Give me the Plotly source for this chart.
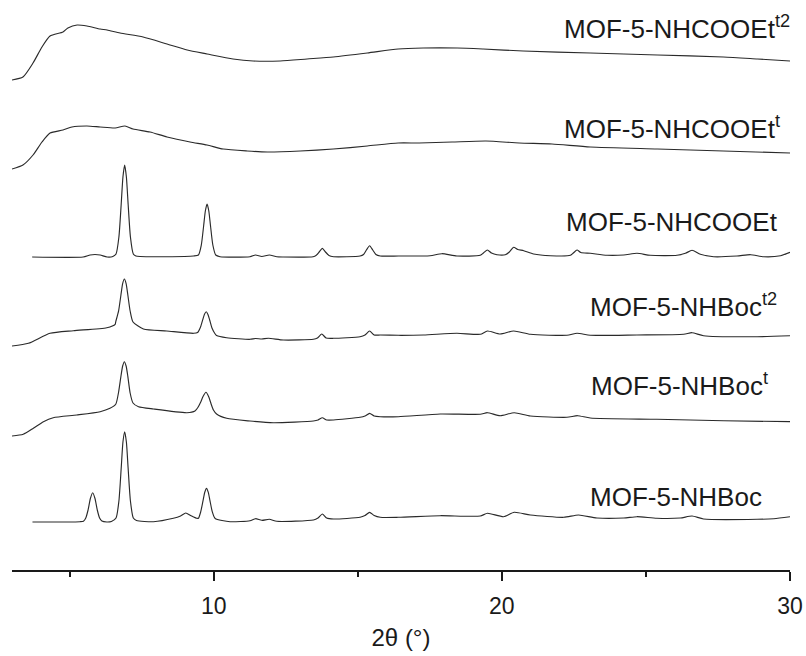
import plotly.graph_objects as go

# ---- Powder XRD patterns (2-theta in degrees, intensity in a.u. above each trace's offset) ----

tt_nhcooet_t2 = [3.0, 3.38, 3.73, 4.04, 4.32, 4.77, 4.94, 5.26, 5.60, 6.06, 6.30, 6.75, 7.55, 8.38, 9.08,
                 9.77, 10.67, 11.37, 12.31, 13.24, 14.15, 15.33, 16.40, 17.27, 18.45, 19.35, 20.74, 23.07,
                 25.40, 27.69, 28.87, 30.0]
int_nhcooet_t2 = [0, 3, 17, 33, 44, 48, 52, 55, 54, 51, 50, 47, 43, 36, 30,
                  26, 21, 19, 19, 21, 23, 27, 31, 32, 32, 31, 29, 27,
                  25, 23, 21, 19]

tt_nhcooet_t = [3.0, 3.38, 3.73, 4.04, 4.32, 4.77, 5.08, 5.60, 6.06, 6.58, 6.92, 7.20, 7.79, 8.38, 9.18,
                9.77, 10.33, 11.16, 11.86, 13.0, 14.15, 15.33, 16.40, 17.13, 18.27, 19.45, 20.6, 21.74,
                23.07, 25.40, 27.69, 30.0]
int_nhcooet_t = [0, 4, 14, 27, 36, 39, 42, 43, 42, 41, 43, 40, 37, 32, 27,
                 24, 20, 18, 17, 18, 20, 23, 26, 26, 27, 28, 26, 25,
                 22, 20, 18, 16]

tt_nhcooet = [3.70, 5.47, 5.71, 5.88, 6.06, 6.30, 6.50,
              6.61, 6.71, 6.79, 6.85, 6.91, 6.97, 7.03, 7.11, 7.21, 7.30, 7.45, 8.37, 9.30,
              9.47, 9.57, 9.65, 9.71, 9.77, 9.83, 9.89, 9.97, 10.07, 10.22,
              11.26, 11.45, 11.67, 11.93, 12.19, 12.42, 13.45,
              13.55, 13.66, 13.77, 13.88, 14.0, 14.16, 15.08,
              15.2, 15.3, 15.41, 15.52, 15.63, 15.78, 16.41, 17.51, 17.92, 18.44,
              19.25, 19.36, 19.50, 19.64, 19.83, 20.12, 20.26, 20.41, 20.55, 20.76, 21.10, 21.68,
              22.38, 22.48, 22.61, 22.74, 23.07, 23.65, 24.23, 24.69, 25.15, 26.08, 26.37, 26.60,
              26.89, 27.35, 28.16, 28.63, 29.09, 29.67, 30.0]
int_nhcooet = [0, 0, 2, 2.5, 2, 0, 0.5,
               3, 20, 53, 80, 92, 80, 53, 20, 3, 1, 0.5, 0.3, 1,
               2, 12, 31, 46, 53, 46, 31, 12, 2, 0.3,
               0.3, 2, 0.5, 2, 0.2, 0, 0.3,
               1.5, 5, 8.7, 5, 1.5, 0.3, 1,
               2.5, 7, 11.3, 7, 2.5, 1, 1, 1.3, 3.3, 1,
               1.7, 4, 7, 4, 2.3, 2.3, 5, 9.7, 7.5, 6.3, 3, 1.3,
               1.7, 4, 7, 4.5, 3.7, 1.7, 2, 3.7, 1.7, 1.7, 3.7, 6.7,
               2.7, 0.3, 1, 2.3, 0.3, 1.3, 4.7]

tt_nhboc_t2 = [3.0, 3.57, 4.32, 5.13, 6.29, 6.58,
               6.60, 6.70, 6.78, 6.84, 6.90, 6.96, 7.02, 7.10, 7.20, 7.56, 8.37, 9.30,
               9.44, 9.54, 9.62, 9.68, 9.74, 9.80, 9.86, 9.94, 10.04, 10.1, 10.45,
               11.26, 11.45, 11.67, 11.9, 12.42, 13.46, 13.6, 13.75, 13.9, 14.16, 15.08,
               15.25, 15.41, 15.57, 15.78, 16.41, 17.28, 18.44, 19.25, 19.5, 19.94, 20.41,
               20.99, 22.26, 22.61, 23.07, 24.69, 26.31, 26.6, 27.0, 28.86, 30.0]
int_nhboc_t2 = [0, 2.7, 12.7, 15.3, 18.3, 21.7,
                24.2, 35.1, 51, 62.4, 67, 62.4, 51, 35, 24, 17, 15, 12.7,
                13.5, 18.8, 26.3, 31.8, 34.3, 31.5, 26, 18, 12.5, 10.5, 8.3,
                6.7, 7.5, 7, 7.7, 6, 6.7, 8, 12, 8, 7.7, 9.3,
                11, 15, 11, 11, 10.7, 11, 12.7, 11.7, 15, 12, 15,
                11.7, 10.7, 12.7, 10.7, 11, 11.7, 13.3, 10.3, 9.3, 10.3]

tt_nhboc_t = [3.0, 3.39, 3.74, 4.09, 4.43, 5.25, 6.06, 6.40,
              6.60, 6.70, 6.78, 6.84, 6.90, 6.96, 7.02, 7.10, 7.20, 7.39, 7.91, 9.07,
              9.35, 9.45, 9.55, 9.63, 9.73, 9.83, 9.91, 9.99, 10.1, 10.45,
              11.26, 12.07, 13.46, 13.62, 13.77, 13.92, 14.16, 15.08, 15.25, 15.41, 15.57,
              15.78, 16.41, 17.86, 19.25, 19.5, 19.94, 20.43, 20.99, 22.26, 22.63, 23.07,
              25.38, 27.7, 30.0]
int_nhboc_t = [0, 1.7, 7.7, 14.3, 18.3, 21, 24.3, 27.7,
               31.7, 44, 59.6, 70, 74.3, 70, 59.6, 43, 33, 29.3, 27, 23.3,
               25, 28.5, 34, 39.5, 43.7, 39, 32, 26, 22, 17.7,
               15, 13.3, 15, 16, 18.3, 16, 16, 18.7, 20, 22.7, 20,
               19.3, 19.3, 22, 21.7, 23.3, 20.3, 23.3, 20, 18.7, 20.3, 18,
               16.7, 15.3, 14.3]

tt_nhboc = [3.71, 5.36, 5.48, 5.56, 5.64, 5.72, 5.80, 5.88, 5.96, 6.04, 6.12, 6.29, 6.45,
            6.61, 6.71, 6.79, 6.85, 6.91, 6.97, 7.03, 7.11, 7.21, 7.32, 7.91,
            8.60, 8.85, 9.03, 9.20, 9.41,
            9.47, 9.55, 9.63, 9.69, 9.75, 9.81, 9.87, 9.95, 10.05, 10.57,
            11.26, 11.45, 11.67, 11.93, 12.19, 13.46, 13.62, 13.77, 13.92, 14.16,
            15.08, 15.25, 15.41, 15.57, 15.78, 16.41, 17.86, 19.25, 19.5, 20.06,
            20.43, 20.99, 22.15, 22.66, 23.30, 24.23, 24.69, 25.38, 26.19, 26.6,
            27.0, 28.86, 29.44, 30.0]
int_nhboc = [0, 0.3, 0.8, 4, 12, 23.5, 29.3, 23.5, 12, 4, 1, 0, 0.5,
             4, 21, 54, 80, 90.3, 80, 54, 21, 4, 1.5, 0.3,
             3.7, 6, 9, 6.5, 3.7,
             3.8, 10.3, 21.4, 29.8, 33.7, 29.8, 21.4, 10.3, 3.5, 0.3,
             1.3, 3.3, 1.7, 2.7, 0.7, 2, 4, 8, 4, 3,
             4.7, 6.5, 9.7, 6.5, 4.7, 4.7, 6.3, 6, 8.7, 5.3,
             9.7, 7, 4.7, 7, 4, 4, 5.3, 3.7, 4, 6,
             3, 2.7, 3.3, 5.3]

# stacking offsets (a.u.) and the label drawn beside each pattern
samples = [
    ("MOF-5-NHCOOEt<sup>t2</sup>", tt_nhcooet_t2, int_nhcooet_t2, 490),
    ("MOF-5-NHCOOEt<sup>t</sup>", tt_nhcooet_t, int_nhcooet_t, 401),
    ("MOF-5-NHCOOEt", tt_nhcooet, int_nhcooet, 313),
    ("MOF-5-NHBoc<sup>t2</sup>", tt_nhboc_t2, int_nhboc_t2, 224),
    ("MOF-5-NHBoc<sup>t</sup>", tt_nhboc_t, int_nhboc_t, 134),
    ("MOF-5-NHBoc", tt_nhboc, int_nhboc, 48),
]
label_x = [22.1, 22.1, 22.17, 22.98, 23.03, 22.98]
label_y = [543, 443, 348, 265, 186, 73]

fig = go.Figure()
for name, tt, inten, off in samples:
    fig.add_trace(go.Scatter(
        x=tt, y=[v + off for v in inten], mode="lines",
        line=dict(color="#2a2a2a", width=1.15, shape="spline", smoothing=0.6),
        showlegend=False, hoverinfo="skip"))

for (name, _, _, _), lx, ly in zip(samples, label_x, label_y):
    fig.add_annotation(x=lx, y=ly, xref="x", yref="y", text=name, showarrow=False,
                       xanchor="left", yanchor="middle",
                       font=dict(family="Liberation Sans, Arial", size=26, color="#1a1a1a"))

fig.update_layout(
    width=806, height=656,
    margin=dict(l=12, r=16, t=0, b=86),
    paper_bgcolor="white", plot_bgcolor="white",
    font=dict(family="Liberation Sans, Arial", color="#1a1a1a"),
    xaxis=dict(range=[3, 30], showline=True, linecolor="#1a1a1a", linewidth=2,
               showgrid=False, zeroline=False, ticks="outside", ticklen=9, tickwidth=1.5,
               tickcolor="#1a1a1a", tick0=0, dtick=10, ticklabelstandoff=5,
               tickfont=dict(size=23, family="Liberation Sans, Arial"),
               minor=dict(ticks="outside", ticklen=5, tickwidth=1.5, dtick=5, tick0=0,
                          tickcolor="#1a1a1a"),
               title=dict(text="2θ (°)", font=dict(size=24, family="Liberation Sans, Arial"),
                          standoff=12),
               automargin=False),
    yaxis=dict(range=[0, 570], visible=False, fixedrange=True),
)

fig.write_html("out.html")
